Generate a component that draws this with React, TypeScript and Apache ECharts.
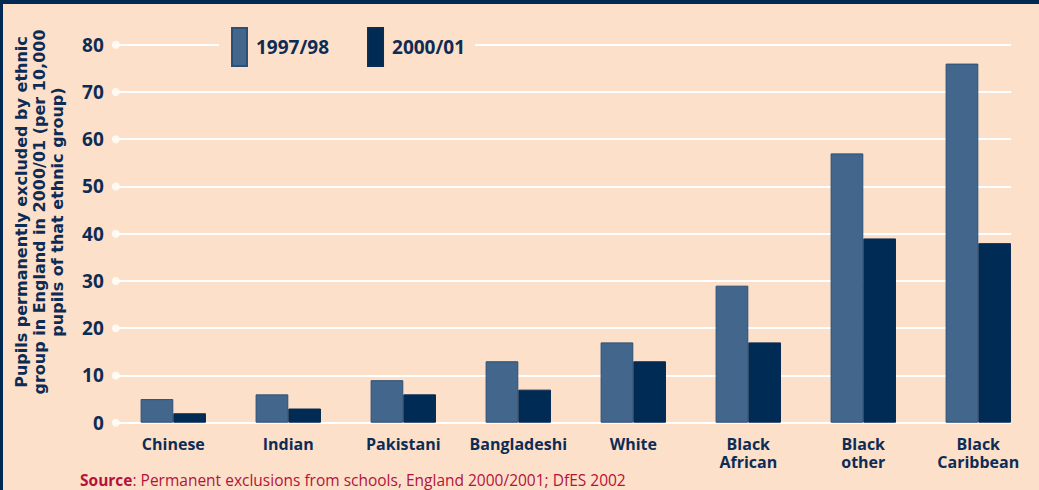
import React, { useEffect, useRef } from "react";
import * as echarts from "echarts";

const categories = [
  "Chinese",
  "Indian",
  "Pakistani",
  "Bangladeshi",
  "White",
  "Black\nAfrican",
  "Black\nother",
  "Black\nCaribbean",
];
const series1997 = [5, 6, 9, 13, 17, 29, 57, 76];
const series2000 = [2, 3, 6, 7, 13, 17, 39, 38];
const yTicks = [0, 10, 20, 30, 40, 50, 60, 70, 80];
const seriesNames = ["1997/98", "2000/01"];
const yTitle = [
  "Pupils permanently excluded by ethnic",
  "group in England in 2000/01 (per 10,000",
  "pupils of that ethnic group)",
];
const sourceLabel = "Source";
const sourceText = ": Permanent exclusions from schools, England 2000/2001; DfES 2002";

const NAVY = "#0D2C55";
const BG = "#FDE0C9";
const C1997 = "#42668C";
const C2000 = "#002B55";
const FONT = "Open Sans";

export default function App() {
  const ref = useRef<HTMLDivElement>(null);
  useEffect(() => {
    if (!ref.current) return;
    const chart = echarts.init(ref.current, null, { renderer: "svg" });
    const gridTop = 44.7;
    const gridBottom = 490 - 422.7;
    chart.setOption({
      animation: false,
      backgroundColor: BG,
      grid: [
        { left: 115.8, right: 3.2, top: gridTop, bottom: gridBottom },
        { left: 115.8, right: 27.8, top: gridTop, bottom: gridBottom },
      ],
      legend: {
        data: seriesNames,
        left: 219,
        top: 27,
        padding: [0, 10, 0, 12],
        backgroundColor: BG,
        itemWidth: 15,
        itemHeight: 38,
        itemGap: 38,
        icon: "rect",
        textStyle: {
          fontFamily: FONT,
          fontWeight: "bold",
          fontSize: 19,
          color: NAVY,
          padding: [0, 0, 0, 4],
        },
        z: 10,
      },
      xAxis: [
        {
          type: "category",
          gridIndex: 0,
          data: categories,
          axisLine: { show: false },
          axisTick: { show: false },
          splitLine: { show: false },
          axisLabel: {
            interval: 0,
            margin: 12,
            fontFamily: FONT,
            fontWeight: "bold",
            fontSize: 16,
            lineHeight: 18,
            color: NAVY,
            verticalAlign: "top",
          },
        },
        { type: "value", gridIndex: 1, min: 0, max: 1, show: false },
      ],
      yAxis: [
        { type: "value", gridIndex: 0, min: 0, max: 80, interval: 10, show: false },
        {
          type: "value",
          gridIndex: 1,
          min: 0,
          max: 80,
          interval: 10,
          axisLine: { show: false },
          axisTick: { show: false },
          splitLine: { show: true, lineStyle: { color: "#FFFFFF", width: 2 } },
          axisLabel: {
            margin: 12,
            fontFamily: FONT,
            fontWeight: "bold",
            fontSize: 19,
            color: NAVY,
          },
        },
      ],
      series: [
        {
          name: seriesNames[0],
          type: "bar",
          xAxisIndex: 0,
          yAxisIndex: 0,
          data: series1997,
          barWidth: 32.7,
          barGap: "0%",
          itemStyle: { color: C1997, borderColor: "#2C4F77", borderWidth: 1 },
          z: 3,
        },
        {
          name: seriesNames[1],
          type: "bar",
          xAxisIndex: 0,
          yAxisIndex: 0,
          data: series2000,
          barWidth: 32.7,
          barGap: "0%",
          itemStyle: { color: C2000, borderColor: "#0A2B52", borderWidth: 1 },
          z: 3,
        },
        {
          type: "scatter",
          xAxisIndex: 1,
          yAxisIndex: 1,
          data: yTicks.map((t) => [0, t]),
          symbol: "circle",
          symbolSize: 8,
          itemStyle: { color: "#FFFFFF" },
          silent: true,
          z: 2,
        },
      ],
      graphic: [
        { type: "rect", shape: { x: 0, y: 0, width: 1039, height: 4 }, style: { fill: "#002A54" }, z: 100 },
        { type: "rect", shape: { x: 0, y: 0, width: 3, height: 490 }, style: { fill: "#002A54" }, z: 100 },
        {
          type: "text",
          x: 39,
          y: 212,
          rotation: Math.PI / 2,
          style: {
            text: yTitle.join("\n"),
            fontFamily: "DejaVu Sans",
            fontWeight: "bold",
            fontSize: 16,
            lineHeight: 18,
            fill: NAVY,
            align: "center",
            verticalAlign: "middle",
          },
        },
        {
          type: "text",
          x: 80,
          y: 480,
          style: {
            text: `{b|${sourceLabel}}{n|${sourceText}}`,
            verticalAlign: "middle",
            rich: {
              b: { fontFamily: FONT, fontWeight: "bold", fontSize: 15.5, lineHeight: 16, fill: "#B3123C", color: "#B3123C" },
              n: { fontFamily: FONT, fontSize: 15.5, lineHeight: 16, fill: "#B3123C", color: "#B3123C" },
            },
          },
        },
      ],
    });
    return () => chart.dispose();
  }, []);
  return (
    <div
      ref={ref}
      style={{ position: "fixed", left: 0, top: 0, width: 1039, height: 490 }}
    />
  );
}
